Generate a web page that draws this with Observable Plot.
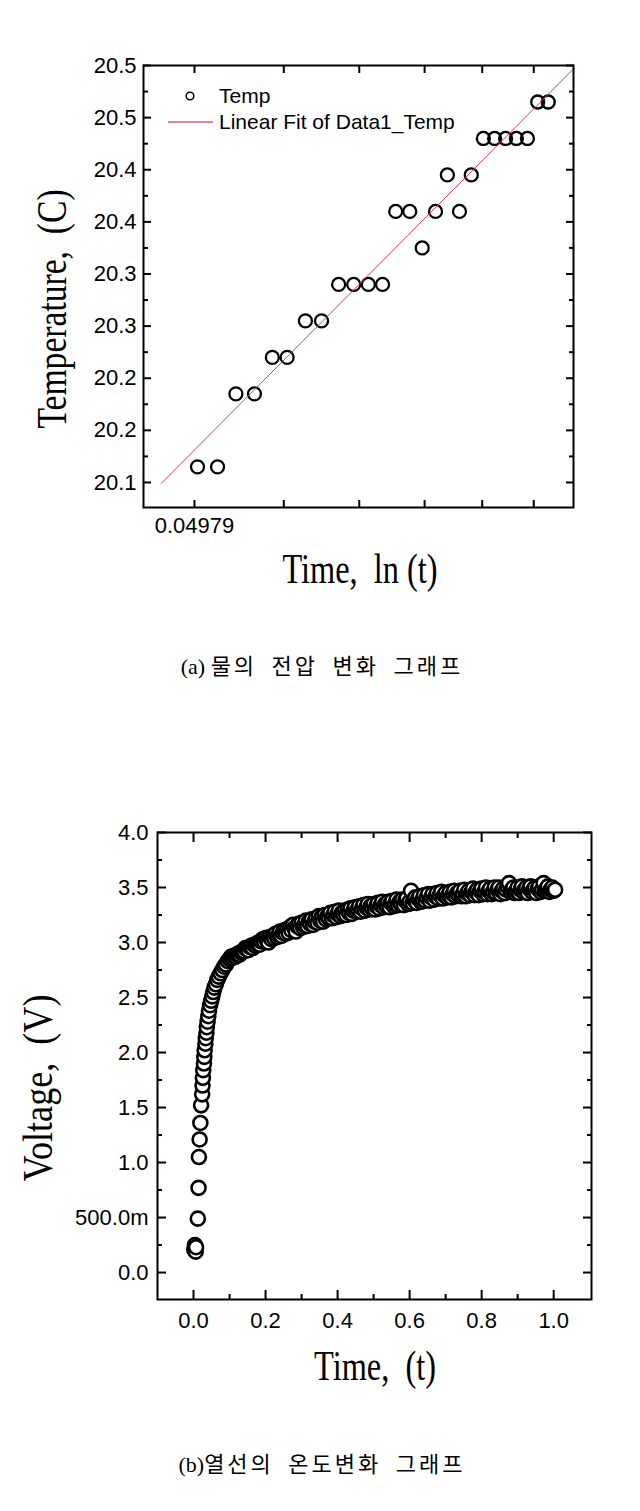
<!DOCTYPE html>
<html><head><meta charset="utf-8">
<script src="https://cdn.jsdelivr.net/npm/d3@7"></script>
<script src="https://cdn.jsdelivr.net/npm/@observablehq/plot@0.6"></script>
<style>
html,body{margin:0;padding:0;background:#fff;}
#page{position:relative;width:640px;height:1511px;overflow:hidden;background:#fff;}
#page > svg{position:absolute;left:0;}
</style></head><body><div id="page"></div>
<script>
// ---------- Chart (a): temperature vs ln(t) ----------
const tempT = [0.0501, 0.0522, 0.0542, 0.0563, 0.0584, 0.0602, 0.0625, 0.0646, 0.0669, 0.0690, 0.0711, 0.0732, 0.0752,
               0.0774, 0.0794, 0.0816, 0.0836, 0.0857, 0.0878, 0.0900, 0.0921, 0.0942, 0.0963, 0.0985, 0.1006, 0.1028];
const tempV = [20.115, 20.115, 20.185, 20.185, 20.22, 20.22, 20.255, 20.255, 20.29, 20.29, 20.29, 20.29, 20.36,
               20.36, 20.325, 20.36, 20.395, 20.36, 20.395, 20.43, 20.43, 20.43, 20.43, 20.43, 20.465, 20.465];
const fitT = [0.0465, 0.1083];
const fitV = [20.099, 20.497];
const yTicksA = [20.1, 20.15, 20.2, 20.25, 20.3, 20.35, 20.4, 20.45, 20.5];
const yTickLabelsA = ["20.1", "20.2", "20.2", "20.3", "20.3", "20.4", "20.4", "20.5", "20.5"];
const yMinorA = [20.125, 20.175, 20.225, 20.275, 20.325, 20.375, 20.425, 20.475];
const xTicksA = [0.04979, 0.05979, 0.06979, 0.07979, 0.08979, 0.09979];
const xTickLabelsA = ["0.04979", "", "", "", "", ""];

// ---------- Chart (b): voltage vs time ----------
const timeB = [0.002, 0.004, 0.006, 0.007, 0.012, 0.014, 0.015, 0.017, 0.019, 0.021, 0.024, 0.025, 0.026, 0.027,
  0.029, 0.030, 0.031, 0.033, 0.034, 0.036, 0.037, 0.039, 0.041, 0.043, 0.046, 0.049, 0.052, 0.055, 0.058, 0.062,
  0.066, 0.070, 0.075, 0.080, 0.085, 0.090, 0.095,
  0.100, 0.104, 0.108, 0.112, 0.116, 0.120, 0.124, 0.128, 0.132, 0.136,
  0.140, 0.144, 0.148, 0.152, 0.156, 0.160, 0.164, 0.168, 0.172, 0.176,
  0.180, 0.184, 0.188, 0.192, 0.196, 0.200, 0.204, 0.208, 0.212, 0.216,
  0.220, 0.224, 0.228, 0.232, 0.236, 0.240, 0.244, 0.248, 0.252, 0.256,
  0.260, 0.264, 0.268, 0.272, 0.276, 0.280, 0.284, 0.288, 0.292, 0.296,
  0.300, 0.304, 0.308, 0.312, 0.316, 0.320, 0.324, 0.328, 0.332, 0.336,
  0.340, 0.344, 0.348, 0.352, 0.356, 0.360, 0.364, 0.368, 0.372, 0.376,
  0.380, 0.384, 0.388, 0.392, 0.396, 0.400, 0.404, 0.408, 0.412, 0.416,
  0.420, 0.424, 0.428, 0.432, 0.436, 0.440, 0.444, 0.448, 0.452, 0.456,
  0.460, 0.464, 0.468, 0.472, 0.476, 0.480, 0.484, 0.488, 0.492, 0.496,
  0.500, 0.504, 0.508, 0.512, 0.516, 0.520, 0.524, 0.528, 0.532, 0.536,
  0.540, 0.544, 0.548, 0.552, 0.556, 0.560, 0.564, 0.568, 0.572, 0.576,
  0.580, 0.584, 0.588, 0.592, 0.596, 0.600, 0.604, 0.608, 0.612, 0.616,
  0.620, 0.624, 0.628, 0.632, 0.636, 0.640, 0.644, 0.648, 0.652, 0.656,
  0.660, 0.664, 0.668, 0.672, 0.676, 0.680, 0.684, 0.688, 0.692, 0.696,
  0.700, 0.704, 0.708, 0.712, 0.716, 0.720, 0.724, 0.728, 0.732, 0.736,
  0.740, 0.744, 0.748, 0.752, 0.756, 0.760, 0.764, 0.768, 0.772, 0.776,
  0.780, 0.784, 0.788, 0.792, 0.796, 0.800, 0.804, 0.808, 0.812, 0.816,
  0.820, 0.824, 0.828, 0.832, 0.836, 0.840, 0.844, 0.848, 0.852, 0.856,
  0.860, 0.864, 0.868, 0.872, 0.876, 0.880, 0.884, 0.888, 0.892, 0.896,
  0.900, 0.904, 0.908, 0.912, 0.916, 0.920, 0.924, 0.928, 0.932, 0.936,
  0.940, 0.944, 0.948, 0.952, 0.956, 0.960, 0.964, 0.968, 0.972, 0.976,
  0.980, 0.984, 0.988, 0.992, 0.996, 1.000, 1.004];
const voltB = [0.21, 0.25, 0.19, 0.23, 0.49, 0.77, 1.05, 1.21, 1.36, 1.52, 1.62, 1.70, 1.77, 1.84,
  1.90, 1.96, 2.02, 2.08, 2.13, 2.18, 2.23, 2.28, 2.33, 2.38, 2.43, 2.47, 2.51, 2.55, 2.59, 2.62,
  2.66, 2.69, 2.72, 2.75, 2.78, 2.80, 2.83,
  2.85, 2.87, 2.86, 2.88, 2.87, 2.89, 2.90, 2.89, 2.91, 2.92,
  2.92, 2.95, 2.94, 2.93, 2.96, 2.97, 2.95, 2.98, 2.97, 2.99,
  3.00, 2.98, 3.01, 3.03, 3.01, 3.04, 3.02, 3.00, 3.05, 3.03,
  3.06, 3.04, 3.08, 3.05, 3.07, 3.10, 3.06, 3.09, 3.11, 3.08,
  3.12, 3.09, 3.14, 3.11, 3.16, 3.13, 3.10, 3.15, 3.17, 3.13,
  3.18, 3.14, 3.16, 3.20, 3.15, 3.19, 3.17, 3.21, 3.16, 3.19,
  3.22, 3.18, 3.24, 3.20, 3.23, 3.19, 3.25, 3.21, 3.24, 3.22,
  3.27, 3.22, 3.25, 3.28, 3.23, 3.26, 3.29, 3.24, 3.27, 3.25,
  3.29, 3.25, 3.30, 3.27, 3.31, 3.26, 3.29, 3.32, 3.28, 3.30,
  3.33, 3.28, 3.31, 3.34, 3.29, 3.32, 3.35, 3.30, 3.33, 3.31,
  3.35, 3.30, 3.33, 3.36, 3.31, 3.34, 3.37, 3.32, 3.35, 3.33,
  3.37, 3.32, 3.36, 3.38, 3.33, 3.35, 3.39, 3.34, 3.37, 3.35,
  3.39, 3.34, 3.38, 3.40, 3.35, 3.37, 3.47, 3.36, 3.39, 3.41,
  3.36, 3.40, 3.42, 3.37, 3.39, 3.43, 3.38, 3.41, 3.44, 3.38,
  3.41, 3.44, 3.39, 3.42, 3.45, 3.40, 3.43, 3.46, 3.40, 3.43,
  3.45, 3.41, 3.43, 3.46, 3.41, 3.44, 3.47, 3.42, 3.45, 3.43,
  3.47, 3.42, 3.44, 3.48, 3.42, 3.45, 3.47, 3.43, 3.46, 3.49,
  3.43, 3.46, 3.48, 3.43, 3.47, 3.49, 3.44, 3.46, 3.50, 3.44,
  3.47, 3.49, 3.44, 3.46, 3.50, 3.45, 3.48, 3.50, 3.44, 3.47,
  3.49, 3.45, 3.48, 3.51, 3.54, 3.46, 3.48, 3.50, 3.45, 3.47,
  3.50, 3.45, 3.48, 3.51, 3.46, 3.48, 3.50, 3.45, 3.49, 3.51,
  3.46, 3.48, 3.50, 3.45, 3.49, 3.51, 3.46, 3.48, 3.54, 3.47,
  3.49, 3.51, 3.46, 3.48, 3.50, 3.47, 3.48];
const yTicksB = [0, 0.5, 1, 1.5, 2, 2.5, 3, 3.5, 4];
const yTickLabelsB = ["0.0", "500.0m", "1.0", "1.5", "2.0", "2.5", "3.0", "3.5", "4.0"];
const yMinorB = [0.25, 0.75, 1.25, 1.75, 2.25, 2.75, 3.25, 3.75];
const xTicksB = [0, 0.2, 0.4, 0.6, 0.8, 1.0];
const xTickLabelsB = ["0.0", "0.2", "0.4", "0.6", "0.8", "1.0"];
const xMinorB = [0.1, 0.3, 0.5, 0.7, 0.9];

// ---------- texts ----------
const titleYA = "Temperature,  (C)";
const titleXA = "Time,  ln (t)";
const captionA = ["(a) ", "물의 전압 변화 그래프"];
const titleYB = "Voltage,  (V)";
const titleXB = "Time,  (t)";
const captionB = ["(b)", "열선의 온도변화 그래프"];
const legendA = ["Temp", "Linear Fit of Data1_Temp"];

const tempData = tempT.map((t, i) => ({t, v: tempV[i]}));
const fitData = fitT.map((t, i) => ({t, v: fitV[i]}));
const voltData = timeB.map((t, i) => ({t, v: voltB[i]}));

const sans = "'Liberation Sans', Arial, sans-serif";
const serif = "'Liberation Serif', 'Times New Roman', serif";

function boxAxes(xt, xl, xm, yt, yl, ym, o) {
  const common = {strokeWidth: 2, label: null, fontSize: 22, fontFamily: sans};
  const marks = [
    Plot.axisY(yt, {...common, anchor: "left", tickSize: -o.yMaj, tickPadding: o.yMaj + o.yGap, tickFormat: d => yl[yt.indexOf(d)]}),
    Plot.axisY(yt, {...common, anchor: "right", tickSize: -o.yMaj, tickFormat: () => ""}),
    Plot.axisX(xt, {...common, anchor: "bottom", tickSize: -o.xMaj, tickPadding: o.xMaj + o.xGap, tickFormat: d => xl[xt.indexOf(d)]}),
    Plot.axisX(xt, {...common, anchor: "top", tickSize: -o.xMaj, tickFormat: () => ""})
  ];
  if (ym) {
    marks.push(Plot.axisY(ym, {...common, anchor: "left", tickSize: -5, tickFormat: () => ""}));
    marks.push(Plot.axisY(ym, {...common, anchor: "right", tickSize: -5, tickFormat: () => ""}));
  }
  if (xm) {
    marks.push(Plot.axisX(xm, {...common, anchor: "bottom", tickSize: -5, tickFormat: () => ""}));
    marks.push(Plot.axisX(xm, {...common, anchor: "top", tickSize: -5, tickFormat: () => ""}));
  }
  return marks;
}

const chartA = Plot.plot({
  width: 640, height: 545,
  marginTop: 65, marginBottom: 38, marginLeft: 143, marginRight: 67,
  x: {type: "log", domain: [0.04485, 0.10826]},
  y: {domain: [20.076, 20.5]},
  style: {fontFamily: sans, fontSize: "22px", color: "#000", background: "transparent", overflow: "visible"},
  marks: [
    Plot.dot(tempData, {x: "t", y: "v", r: 6.5, stroke: "#000", strokeWidth: 2.3, fill: "none"}),
    Plot.line(fitData, {x: "t", y: "v", stroke: "#e23a55", strokeWidth: 1}),
    Plot.frame({stroke: "#000", strokeWidth: 2}),
    ...boxAxes(xTicksA, xTickLabelsA, null, yTicksA, yTickLabelsA, yMinorA, {yMaj: 8, yGap: 7, xMaj: 7, xGap: 10})
  ]
});
chartA.style.top = "0px";

const chartB = Plot.plot({
  width: 640, height: 540,
  marginTop: 32, marginBottom: 41, marginLeft: 157, marginRight: 49,
  x: {domain: [-0.1, 1.105]},
  y: {domain: [-0.245, 4.0]},
  style: {fontFamily: sans, fontSize: "22px", color: "#000", background: "transparent", overflow: "visible"},
  marks: [
    Plot.dot(voltData, {x: "t", y: "v", r: 7, stroke: "#000", strokeWidth: 2.6, fill: "#fff"}),
    Plot.frame({stroke: "#000", strokeWidth: 2}),
    ...boxAxes(xTicksB, xTickLabelsB, xMinorB, yTicksB, yTickLabelsB, yMinorB, {yMaj: 9, yGap: 9, xMaj: 9, xGap: 13})
  ]
});
chartB.style.top = "800px";

const page = document.getElementById("page");
page.appendChild(chartA);
page.appendChild(chartB);

// ---------- overlay: axis titles, legend, captions ----------
const ov = d3.select(page).append("svg")
  .attr("width", 640).attr("height", 1511)
  .style("position", "absolute").style("left", "0px").style("top", "0px");

function title(txt, x, y, rot, sx) {
  ov.append("text")
    .attr("transform", `translate(${x},${y}) rotate(${rot}) scale(${sx},1)`)
    .attr("text-anchor", "middle")
    .style("font-family", serif).style("font-size", "42px").style("white-space", "pre")
    .attr("fill", "#000").text(txt);
}
title(titleYA, 66, 309, -90, 0.8);
title(titleXA, 360, 583, 0, 0.77);
title(titleYB, 52, 1088, -90, 0.86);
title(titleXB, 375, 1380, 0, 0.77);

function caption(parts, x, y) {
  const t = ov.append("text").attr("x", x).attr("y", y).attr("text-anchor", "middle")
    .style("font-family", "'Liberation Serif', 'Noto Sans CJK KR', serif")
    .style("font-size", "22px").style("white-space", "pre").attr("fill", "#000");
  t.append("tspan").style("letter-spacing", "0px").text(parts[0]);
  t.append("tspan").style("letter-spacing", "3px").style("word-spacing", "6px").text(parts[1]);
}
caption(captionA, 322, 674);
caption(captionB, 322, 1472);

// legend for chart (a)
const lg = ov.append("g").style("font-family", sans).style("font-size", "21px");
lg.append("circle").attr("cx", 190).attr("cy", 96).attr("r", 3.8).attr("fill", "none").attr("stroke", "#000").attr("stroke-width", 1.5);
lg.append("text").attr("x", 219).attr("y", 103).attr("fill", "#000").text(legendA[0]);
lg.append("line").attr("x1", 168).attr("x2", 213).attr("y1", 122).attr("y2", 122).attr("stroke", "#c8102e").attr("stroke-width", 1.2);
lg.append("text").attr("x", 219).attr("y", 129).attr("fill", "#000").text(legendA[1]);
</script></body></html>
